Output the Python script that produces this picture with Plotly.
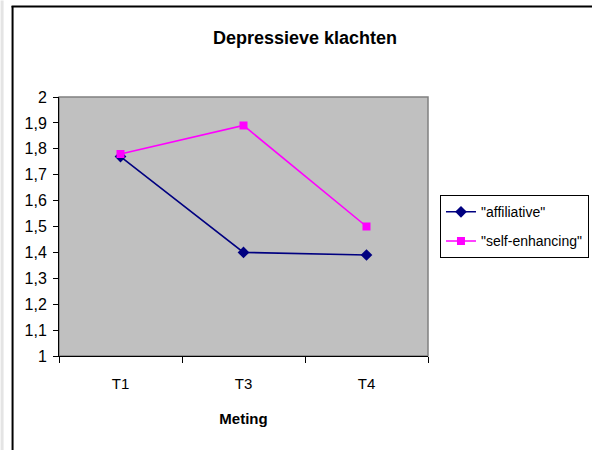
import plotly.graph_objects as go

categories = ["T1", "T3", "T4"]
affiliative = [1.77, 1.40, 1.39]
self_enhancing = [1.78, 1.89, 1.50]
y_ticks = [1.0, 1.1, 1.2, 1.3, 1.4, 1.5, 1.6, 1.7, 1.8, 1.9, 2.0]
y_ticklabels = ["1", "1,1", "1,2", "1,3", "1,4", "1,5", "1,6", "1,7", "1,8", "1,9", "2"]

W, H = 592, 450
L, R, T, B = 58.5, 428, 96.7, 356

def px_x(p):
    return (p - L) / (R - L)

def px_y(p):
    return (B - p) / (B - T)

font = "Liberation Sans, Arial, sans-serif"

fig = go.Figure()
fig.add_trace(go.Scatter(
    x=categories, y=affiliative, name='"affiliative"', mode="lines+markers",
    line=dict(color="#000080", width=1.6),
    marker=dict(symbol="diamond", size=9, color="#000080"),
    legendgroup="a",
))
fig.add_trace(go.Scatter(
    x=categories, y=self_enhancing, name='"self-enhancing"', mode="lines+markers",
    line=dict(color="#FF00FF", width=1.6),
    marker=dict(symbol="square", size=8, color="#FF00FF"),
    legendgroup="b",
))

shapes = [
    dict(type="rect", xref="paper", yref="paper", x0=0, x1=1, y0=0, y1=1,
         line=dict(color="#808080", width=1.5), layer="below"),
    dict(type="line", xref="paper", yref="paper", x0=px_x(12), x1=px_x(12),
         y0=px_y(5.5), y1=px_y(470), line=dict(color="black", width=2)),
    dict(type="line", xref="paper", yref="paper", x0=px_x(11), x1=px_x(620),
         y0=px_y(6), y1=px_y(6), line=dict(color="black", width=2)),
    dict(type="rect", xref="paper", yref="paper", x0=px_x(0), x1=px_x(3),
         y0=px_y(0), y1=px_y(460), fillcolor="#E4E4E4", line=dict(width=0)),
]

fig.update_layout(
    width=W, height=H,
    margin=dict(l=L, r=W - R, t=T, b=H - B, pad=0, autoexpand=False),
    paper_bgcolor="white",
    plot_bgcolor="#C0C0C0",
    font=dict(family=font, size=12, color="black"),
    title=dict(text="<b>Depressieve klachten</b>", x=305 / W,
               xanchor="center", y=1 - 38 / H, yanchor="middle",
               font=dict(size=18, family=font, color="black")),
    xaxis=dict(
        type="category", tickson="boundaries", ticks="outside", ticklen=6,
        tickcolor="black", tickwidth=1, showline=True, linecolor="black", linewidth=1,
        showgrid=False, zeroline=False, ticklabelstandoff=14,
        tickfont=dict(size=15, family=font),
        title=dict(text="<b>Meting</b>", font=dict(size=15, family=font), standoff=22),
        range=[-0.5, 2.5],
    ),
    yaxis=dict(
        range=[1, 2], tickvals=y_ticks, ticktext=y_ticklabels, ticks="outside",
        ticklen=5, tickcolor="black", tickwidth=1, showline=True, linecolor="black",
        linewidth=1, showgrid=False, zeroline=False,
        tickfont=dict(size=16, family=font),
        ticklabelstandoff=3,
    ),
    legend=dict(
        x=px_x(440), y=px_y(195), xanchor="left", yanchor="top",
        bgcolor="white", bordercolor="black", borderwidth=1,
        font=dict(size=14, family=font), tracegroupgap=8,
        traceorder="grouped",
    ),
    shapes=shapes,
    showlegend=True,
)

fig.write_html("out.html")
